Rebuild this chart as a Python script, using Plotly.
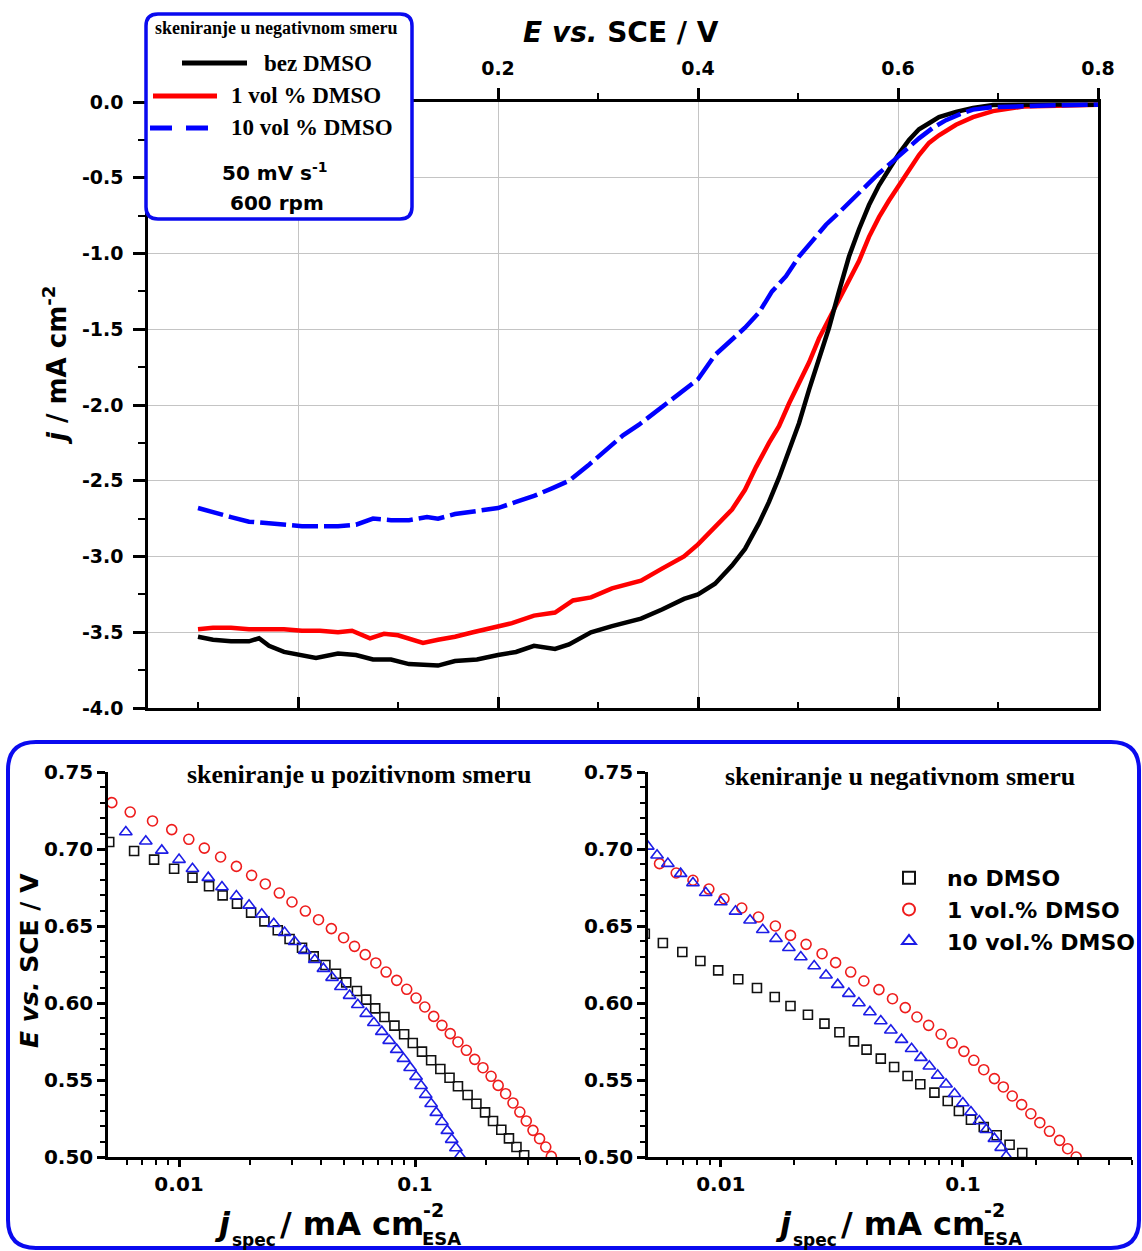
import math
import plotly.graph_objects as go

# ---------------- TOP PANEL: polarization curves (negative scan) ----------------
E_BEZ = [-0.100, -0.085, -0.067, -0.049, -0.039, -0.029, -0.014, 0.004, 0.018, 0.040,
         0.058, 0.075, 0.093, 0.111, 0.129, 0.140, 0.157, 0.179, 0.200, 0.218,
         0.236, 0.257, 0.271, 0.293, 0.314, 0.343, 0.364, 0.386, 0.400, 0.417,
         0.434, 0.447, 0.461, 0.471, 0.481, 0.491, 0.501, 0.511, 0.521, 0.531,
         0.541, 0.551, 0.561, 0.571, 0.581, 0.591, 0.601, 0.611, 0.621, 0.631,
         0.641, 0.658, 0.675, 0.695, 0.725, 0.759, 0.800]
J_BEZ = [-3.53, -3.55, -3.56, -3.56, -3.54, -3.59, -3.63, -3.65, -3.67, -3.64,
         -3.65, -3.68, -3.68, -3.71, -3.72, -3.72, -3.69, -3.68, -3.65, -3.63,
         -3.59, -3.61, -3.58, -3.50, -3.46, -3.41, -3.35, -3.28, -3.25, -3.18,
         -3.06, -2.95, -2.78, -2.64, -2.48, -2.30, -2.12, -1.90, -1.70, -1.49,
         -1.25, -1.02, -0.84, -0.68, -0.55, -0.44, -0.34, -0.25, -0.18, -0.14,
         -0.10, -0.065, -0.04, -0.02, -0.016, -0.016, -0.018]

E_1VOL = [-0.100, -0.085, -0.067, -0.049, -0.032, -0.014, 0.004, 0.022, 0.040, 0.054,
          0.072, 0.086, 0.100, 0.115, 0.125, 0.140, 0.157, 0.175, 0.193, 0.214,
          0.236, 0.257, 0.275, 0.293, 0.314, 0.343, 0.364, 0.386, 0.400, 0.417,
          0.434, 0.447, 0.458, 0.471, 0.481, 0.491, 0.501, 0.511, 0.521, 0.531,
          0.541, 0.551, 0.561, 0.571, 0.581, 0.591, 0.601, 0.611, 0.621, 0.631,
          0.641, 0.658, 0.675, 0.695, 0.725, 0.759, 0.800]
J_1VOL = [-3.48, -3.47, -3.47, -3.48, -3.48, -3.48, -3.49, -3.49, -3.50, -3.49,
          -3.54, -3.51, -3.52, -3.55, -3.57, -3.55, -3.53, -3.50, -3.47, -3.44,
          -3.39, -3.37, -3.29, -3.27, -3.21, -3.16, -3.08, -3.00, -2.92, -2.81,
          -2.69, -2.56, -2.41, -2.25, -2.14, -1.99, -1.86, -1.72, -1.56, -1.43,
          -1.31, -1.18, -1.05, -0.89, -0.76, -0.65, -0.55, -0.44, -0.35, -0.27,
          -0.22, -0.15, -0.10, -0.06, -0.03, -0.024, -0.018]

E_10VOL = [-0.100, -0.085, -0.067, -0.049, -0.032, -0.014, 0.004, 0.022, 0.040, 0.058,
           0.075, 0.093, 0.111, 0.129, 0.140, 0.157, 0.179, 0.200, 0.218, 0.236,
           0.254, 0.271, 0.290, 0.310, 0.325, 0.341, 0.361, 0.381, 0.400, 0.417,
           0.434, 0.447, 0.461, 0.474, 0.488, 0.501, 0.514, 0.528, 0.541, 0.555,
           0.568, 0.581, 0.595, 0.608, 0.621, 0.635, 0.648, 0.662, 0.675, 0.695,
           0.725, 0.759, 0.800]
J_10VOL = [-2.68, -2.71, -2.74, -2.77, -2.78, -2.79, -2.80, -2.80, -2.80, -2.79,
           -2.75, -2.76, -2.76, -2.74, -2.75, -2.72, -2.70, -2.68, -2.64, -2.60,
           -2.55, -2.50, -2.40, -2.28, -2.20, -2.13, -2.03, -1.93, -1.83, -1.67,
           -1.57, -1.49, -1.39, -1.25, -1.15, -1.02, -0.92, -0.81, -0.73, -0.64,
           -0.55, -0.47, -0.39, -0.31, -0.24, -0.17, -0.12, -0.08, -0.05, -0.034,
           -0.026, -0.021, -0.018]

# ---------------- BOTTOM LEFT: Tafel plot, positive scan ----------------
JP_BEZ = [0.00506, 0.00645, 0.00784, 0.00953, 0.0114, 0.0134, 0.0153, 0.0176, 0.0202, 0.0230,
          0.0262, 0.0294, 0.0332, 0.0372, 0.0417, 0.0462, 0.0511, 0.0567, 0.0621, 0.0678,
          0.0742, 0.0818, 0.0899, 0.0978, 0.107, 0.117, 0.128, 0.140, 0.152, 0.167,
          0.182, 0.198, 0.214, 0.232, 0.250, 0.269, 0.290]
EP_BEZ = [0.7045, 0.6987, 0.6931, 0.6872, 0.6814, 0.6758, 0.6699, 0.6645, 0.6587, 0.6530,
          0.6472, 0.6416, 0.6359, 0.6303, 0.6247, 0.6190, 0.6134, 0.6078, 0.6022, 0.5965,
          0.5909, 0.5853, 0.5797, 0.5740, 0.5684, 0.5628, 0.5571, 0.5515, 0.5459, 0.5403,
          0.5346, 0.5290, 0.5234, 0.5177, 0.5121, 0.5065, 0.5011]

JP_1VOL = [0.00519, 0.00621, 0.00772, 0.00931, 0.0110, 0.0128, 0.0150, 0.0175, 0.0203, 0.0232,
           0.0266, 0.0301, 0.0343, 0.0390, 0.0442, 0.0498, 0.0554, 0.0615, 0.0682, 0.0754,
           0.0836, 0.0922, 0.101, 0.110, 0.120, 0.130, 0.141, 0.152, 0.165, 0.179,
           0.194, 0.210, 0.225, 0.242, 0.260, 0.278, 0.296, 0.316, 0.337, 0.358, 0.378]
EP_1VOL = [0.7301, 0.7240, 0.7182, 0.7126, 0.7063, 0.7006, 0.6948, 0.6887, 0.6829, 0.6773,
           0.6714, 0.6656, 0.6597, 0.6541, 0.6483, 0.6424, 0.6368, 0.6314, 0.6260, 0.6201,
           0.6147, 0.6089, 0.6032, 0.5974, 0.5913, 0.5855, 0.5801, 0.5747, 0.5693, 0.5634,
           0.5580, 0.5524, 0.5465, 0.5411, 0.5351, 0.5292, 0.5234, 0.5173, 0.5119, 0.5065, 0.5004]

JP_10VOL = [0.00595, 0.00723, 0.00845, 0.0100, 0.0114, 0.0133, 0.0152, 0.0175, 0.0198, 0.0224,
            0.0252, 0.0280, 0.0309, 0.0341, 0.0376, 0.0409, 0.0445, 0.0485, 0.0528, 0.0572,
            0.0621, 0.0669, 0.0723, 0.0777, 0.0836, 0.0893, 0.0953, 0.101, 0.106, 0.111,
            0.117, 0.123, 0.130, 0.137, 0.143, 0.149, 0.155]
EP_10VOL = [0.7110, 0.7050, 0.6991, 0.6931, 0.6872, 0.6814, 0.6753, 0.6695, 0.6634, 0.6576,
            0.6515, 0.6457, 0.6398, 0.6340, 0.6281, 0.6223, 0.6165, 0.6106, 0.6048, 0.5989,
            0.5931, 0.5872, 0.5814, 0.5756, 0.5697, 0.5639, 0.5580, 0.5522, 0.5463, 0.5405,
            0.5346, 0.5288, 0.5229, 0.5171, 0.5113, 0.5058, 0.5006]

# ---------------- BOTTOM RIGHT: Tafel plot, negative scan ----------------
JN_BEZ = [0.00485, 0.00576, 0.00693, 0.00823, 0.00975, 0.0118, 0.0141, 0.0167, 0.0194, 0.0229,
          0.0268, 0.0309, 0.0355, 0.0400, 0.0458, 0.0520, 0.0591, 0.0667, 0.0763, 0.0866,
          0.0963, 0.108, 0.122, 0.138, 0.156, 0.176]
EN_BEZ = [0.6450, 0.6390, 0.6331, 0.6273, 0.6212, 0.6154, 0.6097, 0.6039, 0.5981, 0.5924,
          0.5866, 0.5810, 0.5751, 0.5697, 0.5639, 0.5584, 0.5526, 0.5472, 0.5418, 0.5364,
          0.5299, 0.5242, 0.5195, 0.5141, 0.5080, 0.5026]

JN_1VOL = [0.00558, 0.00654, 0.00767, 0.00892, 0.0103, 0.0122, 0.0143, 0.0168, 0.0194, 0.0225,
           0.0262, 0.0298, 0.0344, 0.0390, 0.0450, 0.0512, 0.0578, 0.0646, 0.0722, 0.0813,
           0.0903, 0.101, 0.111, 0.122, 0.135, 0.147, 0.160, 0.175, 0.191, 0.208,
           0.228, 0.251, 0.271, 0.294]
EN_1VOL = [0.6905, 0.6844, 0.6797, 0.6740, 0.6677, 0.6617, 0.6558, 0.6500, 0.6439, 0.6381,
           0.6320, 0.6262, 0.6201, 0.6143, 0.6087, 0.6028, 0.5970, 0.5909, 0.5855, 0.5797,
           0.5740, 0.5686, 0.5628, 0.5567, 0.5509, 0.5455, 0.5396, 0.5340, 0.5281, 0.5223,
           0.5167, 0.5108, 0.5054, 0.5000]

JN_10VOL = [0.00499, 0.00545, 0.00604, 0.00682, 0.00767, 0.00866, 0.0100, 0.0115, 0.0132, 0.0149,
            0.0169, 0.0191, 0.0214, 0.0243, 0.0272, 0.0304, 0.0338, 0.0372, 0.0413, 0.0458,
            0.0504, 0.0558, 0.0614, 0.0671, 0.0727, 0.0787, 0.0852, 0.0924, 0.100, 0.108,
            0.117, 0.125, 0.135, 0.144, 0.151]
EN_10VOL = [0.7017, 0.6959, 0.6905, 0.6840, 0.6779, 0.6716, 0.6656, 0.6595, 0.6537, 0.6476,
            0.6418, 0.6359, 0.6299, 0.6240, 0.6180, 0.6119, 0.6061, 0.6000, 0.5942, 0.5883,
            0.5823, 0.5762, 0.5703, 0.5645, 0.5589, 0.5530, 0.5472, 0.5411, 0.5351, 0.5292,
            0.5234, 0.5177, 0.5119, 0.5061, 0.5004]

# ---------------- ticks ----------------
TOP_X_TICKS = [0.0, 0.2, 0.4, 0.6, 0.8]
TOP_X_LABELS = ["", "0.2", "0.4", "0.6", "0.8"]   # 0.0 is hidden behind the legend box
TOP_X_MINOR = [-0.1, 0.1, 0.3, 0.5, 0.7]
TOP_Y_TICKS = [0.0, -0.5, -1.0, -1.5, -2.0, -2.5, -3.0, -3.5, -4.0]
TOP_Y_LABELS = ["0.0", "-0.5", "-1.0", "-1.5", "-2.0", "-2.5", "-3.0", "-3.5", "-4.0"]
TOP_Y_MINOR = [-0.25, -0.75, -1.25, -1.75, -2.25, -2.75, -3.25, -3.75]
TAF_Y_TICKS = [0.50, 0.55, 0.60, 0.65, 0.70, 0.75]
TAF_Y_LABELS = ["0.50", "0.55", "0.60", "0.65", "0.70", "0.75"]
TAF_Y_MINOR = [0.51, 0.52, 0.53, 0.54, 0.56, 0.57, 0.58, 0.59, 0.61, 0.62, 0.63, 0.64,
               0.66, 0.67, 0.68, 0.69, 0.71, 0.72, 0.73, 0.74]
TAF_X_TICKS = [0.01, 0.1]
TAF_X_LABELS = ["0.01", "0.1"]
TAF_X_MINOR = [0.006, 0.007, 0.008, 0.009, 0.02, 0.03, 0.04, 0.05, 0.06, 0.07, 0.08, 0.09,
               0.2, 0.3, 0.4, 0.5]

SERIES_TOP = ["bez DMSO", "1 vol % DMSO", "10 vol % DMSO"]
SERIES_TAF = ["no DMSO", "1 vol.% DMSO", "10 vol.% DMSO"]

# ---------------- geometry helpers ----------------
W, H = 1142, 1251
def px(x):
    return x / W
def py(y):
    return 1 - y / H

SANS = "DejaVu Sans"
SERIF = "Liberation Serif"
BLUE_FRAME = "#0a0aef"

fig = go.Figure()

# top curves (red, black on main x; blue on overlay x2 so it draws on top)
fig.add_trace(go.Scatter(x=E_1VOL, y=J_1VOL, mode="lines", name=SERIES_TOP[1],
                         line=dict(color="#ff0000", width=4.5), xaxis="x", yaxis="y",
                         showlegend=False))
fig.add_trace(go.Scatter(x=E_BEZ, y=J_BEZ, mode="lines", name=SERIES_TOP[0],
                         line=dict(color="black", width=4.5), xaxis="x", yaxis="y",
                         showlegend=False))
fig.add_trace(go.Scatter(x=E_10VOL, y=J_10VOL, mode="lines", name=SERIES_TOP[2],
                         line=dict(color="#0000ff", width=4.5, dash="26px,6px"),
                         xaxis="x2", yaxis="y", showlegend=False))

SQ = dict(symbol="square-open", color="#111111", size=9, line=dict(width=1.6))
CI = dict(symbol="circle-open", color="#ee1c1c", size=10, line=dict(width=1.6))
TR = dict(symbol="triangle-up-open", color="#1c1ce6", size=11, line=dict(width=1.6))
# bottom-left
fig.add_trace(go.Scatter(x=JP_BEZ, y=EP_BEZ, mode="markers", name=SERIES_TAF[0], marker=SQ,
                         xaxis="x3", yaxis="y3", showlegend=False))
fig.add_trace(go.Scatter(x=JP_1VOL, y=EP_1VOL, mode="markers", name=SERIES_TAF[1], marker=CI,
                         xaxis="x3", yaxis="y3", showlegend=False))
fig.add_trace(go.Scatter(x=JP_10VOL, y=EP_10VOL, mode="markers", name=SERIES_TAF[2], marker=TR,
                         xaxis="x3", yaxis="y3", showlegend=False))
# bottom-right
fig.add_trace(go.Scatter(x=JN_BEZ, y=EN_BEZ, mode="markers", name=SERIES_TAF[0], marker=SQ,
                         xaxis="x4", yaxis="y4", showlegend=True))
fig.add_trace(go.Scatter(x=JN_1VOL, y=EN_1VOL, mode="markers", name=SERIES_TAF[1], marker=CI,
                         xaxis="x4", yaxis="y4", showlegend=True))
fig.add_trace(go.Scatter(x=JN_10VOL, y=EN_10VOL, mode="markers", name=SERIES_TAF[2], marker=TR,
                         xaxis="x4", yaxis="y4", showlegend=True))

tick_font_top = dict(family=SANS, size=19, color="black", weight="bold")
tick_font_bot = dict(family=SANS, size=20, color="black", weight="bold")
GRID = "#c4c4c4"

top_dom_x = [px(148), px(1098)]
top_dom_y = [py(708), py(102)]
bl_dom_x = [px(108), px(580)]
br_dom_x = [px(648), px(1132)]
b_dom_y = [py(1157), py(772)]
log_rng = [math.log10(0.005), math.log10(0.5)]

def taf_x(dom, anchor):
    return dict(type="log", domain=dom, range=log_rng, anchor=anchor,
                showline=True, linecolor="black", linewidth=2.5,
                ticks="outside", ticklen=7, tickwidth=2.5, tickcolor="black",
                tickmode="array", tickvals=TAF_X_TICKS, ticktext=TAF_X_LABELS,
                tickfont=tick_font_bot, ticklabelstandoff=0, showgrid=False, zeroline=False,
                minor=dict(tickmode="array", tickvals=TAF_X_MINOR, ticks="outside",
                           ticklen=5, tickwidth=2, tickcolor="black", showgrid=False))

def taf_y(anchor):
    return dict(domain=b_dom_y, range=[0.5, 0.75], anchor=anchor,
                showline=True, linecolor="black", linewidth=2.5,
                ticks="outside", ticklen=8, tickwidth=2.5, tickcolor="black",
                tickmode="array", tickvals=TAF_Y_TICKS, ticktext=TAF_Y_LABELS,
                tickfont=tick_font_bot, ticklabelstandoff=0, showgrid=False, zeroline=False,
                minor=dict(tickmode="array", tickvals=TAF_Y_MINOR, ticks="outside",
                           ticklen=5, tickwidth=2, tickcolor="black", showgrid=False))

fig.update_layout(
    width=W, height=H, margin=dict(l=0, r=0, t=0, b=0),
    paper_bgcolor="white", plot_bgcolor="white", template="none",
    xaxis=dict(domain=top_dom_x, range=[-0.15, 0.8], side="top", anchor="y",
               showline=True, linecolor="black", linewidth=2.5,
               ticks="outside", ticklen=11, tickwidth=2.5, tickcolor="black",
               tickmode="array", tickvals=TOP_X_TICKS, ticktext=TOP_X_LABELS,
               tickfont=tick_font_top, ticklabelstandoff=6,
               showgrid=True, gridcolor=GRID, gridwidth=1.4, zeroline=False,
               minor=dict(tickmode="array", tickvals=TOP_X_MINOR, ticks="outside",
                          ticklen=6, tickwidth=2, tickcolor="black", showgrid=False)),
    xaxis2=dict(overlaying="x", side="bottom", anchor="y", range=[-0.15, 0.8],
                showline=True, linecolor="black", linewidth=2.5,
                ticks="inside", ticklen=11, tickwidth=2.5, tickcolor="black",
                tickmode="array", tickvals=TOP_X_TICKS, showticklabels=False,
                showgrid=False, zeroline=False,
                minor=dict(tickmode="array", tickvals=TOP_X_MINOR, ticks="inside",
                           ticklen=6, tickwidth=2, tickcolor="black", showgrid=False)),
    yaxis=dict(domain=top_dom_y, range=[-4.0, 0.0], anchor="x",
               showline=True, mirror=True, linecolor="black", linewidth=2.5,
               ticks="outside", ticklen=12, tickwidth=2.5, tickcolor="black",
               tickmode="array", tickvals=TOP_Y_TICKS, ticktext=TOP_Y_LABELS,
               tickfont=tick_font_top, ticklabelstandoff=6,
               showgrid=True, gridcolor=GRID, gridwidth=1.4, zeroline=False,
               minor=dict(tickmode="array", tickvals=TOP_Y_MINOR, ticks="outside",
                          ticklen=7, tickwidth=2, tickcolor="black", showgrid=False)),
    xaxis3=taf_x(bl_dom_x, "y3"),
    yaxis3=taf_y("x3"),
    xaxis4=taf_x(br_dom_x, "y4"),
    yaxis4=taf_y("x4"),
    legend=dict(x=px(871), y=py(857), xanchor="left", yanchor="top",
                bgcolor="rgba(0,0,0,0)", borderwidth=0, itemwidth=66,
                font=dict(family=SANS, size=22, color="black", weight="bold"),
                itemsizing="constant", tracegroupgap=0),
    showlegend=True,
)


def rounded(x0, x1, ytop, ybot, r):
    X0, X1, YT, YB = px(x0), px(x1), py(ytop), py(ybot)
    rx, ry = r / W, r / H
    return (f"M {X0+rx},{YT} L {X1-rx},{YT} Q {X1},{YT} {X1},{YT-ry} "
            f"L {X1},{YB+ry} Q {X1},{YB} {X1-rx},{YB} L {X0+rx},{YB} "
            f"Q {X0},{YB} {X0},{YB+ry} L {X0},{YT-ry} Q {X0},{YT} {X0+rx},{YT} Z")


shapes = []
# frame around the bottom Tafel panels
shapes.append(dict(type="path", xref="paper", yref="paper", path=rounded(8, 1139, 742, 1248, 28),
                   line=dict(color=BLUE_FRAME, width=4), fillcolor="rgba(0,0,0,0)", layer="below"))
# legend box in the top panel
shapes.append(dict(type="path", xref="paper", yref="paper", path=rounded(146, 412, 14, 219, 12),
                   line=dict(color=BLUE_FRAME, width=3.5), fillcolor="white", layer="above"))
# legend swatches
for (x0, x1, yy, col, dash) in [(182, 247, 63, "black", "solid"),
                                 (153, 217, 96, "#ff0000", "solid"),
                                 (150, 214, 128, "#0000ff", "22px,14px")]:
    shapes.append(dict(type="line", xref="paper", yref="paper",
                       x0=px(x0), x1=px(x1), y0=py(yy), y1=py(yy),
                       line=dict(color=col, width=5, dash=dash), layer="above"))
fig.update_layout(shapes=shapes)

annotations = []
def ann(text, x, y, size, family=SANS, xanchor="center", yanchor="middle", angle=0, weight="bold"):
    annotations.append(dict(text=text, x=px(x), y=py(y), xref="paper", yref="paper",
                            xanchor=xanchor, yanchor=yanchor, textangle=angle, showarrow=False,
                            borderpad=0, font=dict(family=family, size=size, color="black", weight=weight)))

# top panel titles
ann("<i>E vs.</i> SCE / V", 621, 33, 28)
ann("<i>j</i> / mA cm<sup>-2</sup>", 55, 365, 26, angle=-90)
# top legend content
ann("skeniranje u negativnom smeru", 276, 28, 18, family=SERIF)
ann(SERIES_TOP[0], 263, 63, 23, family=SERIF, xanchor="left")
ann(SERIES_TOP[1], 230, 96, 23, family=SERIF, xanchor="left")
ann(SERIES_TOP[2], 230, 128, 23, family=SERIF, xanchor="left")
ann("50 mV s<sup>-1</sup>", 275, 172, 20)
ann("600 rpm", 277, 203, 20)

# bottom panels
ann("skeniranje u pozitivnom smeru", 360, 774, 26, family=SERIF)
ann("skeniranje u negativnom smeru", 900, 776, 26, family=SERIF)
ann("<i>E vs.</i> SCE / V", 29, 961, 25, angle=-90)
for dx in (0, 561):
    ann("<i>j</i>", 213 + dx, 1224, 32, xanchor="left")
    ann("spec", 231 + dx, 1240, 17, xanchor="left")
    ann("/ mA cm", 279 + dx, 1224, 32, xanchor="left")
    ann("-2", 433 + dx, 1210, 19)
    ann("ESA", 441 + dx, 1238, 18)

fig.update_layout(annotations=annotations)

fig.write_html("out.html", config={"displayModeBar": False},
               post_script="document.body.style.margin='0px';")
